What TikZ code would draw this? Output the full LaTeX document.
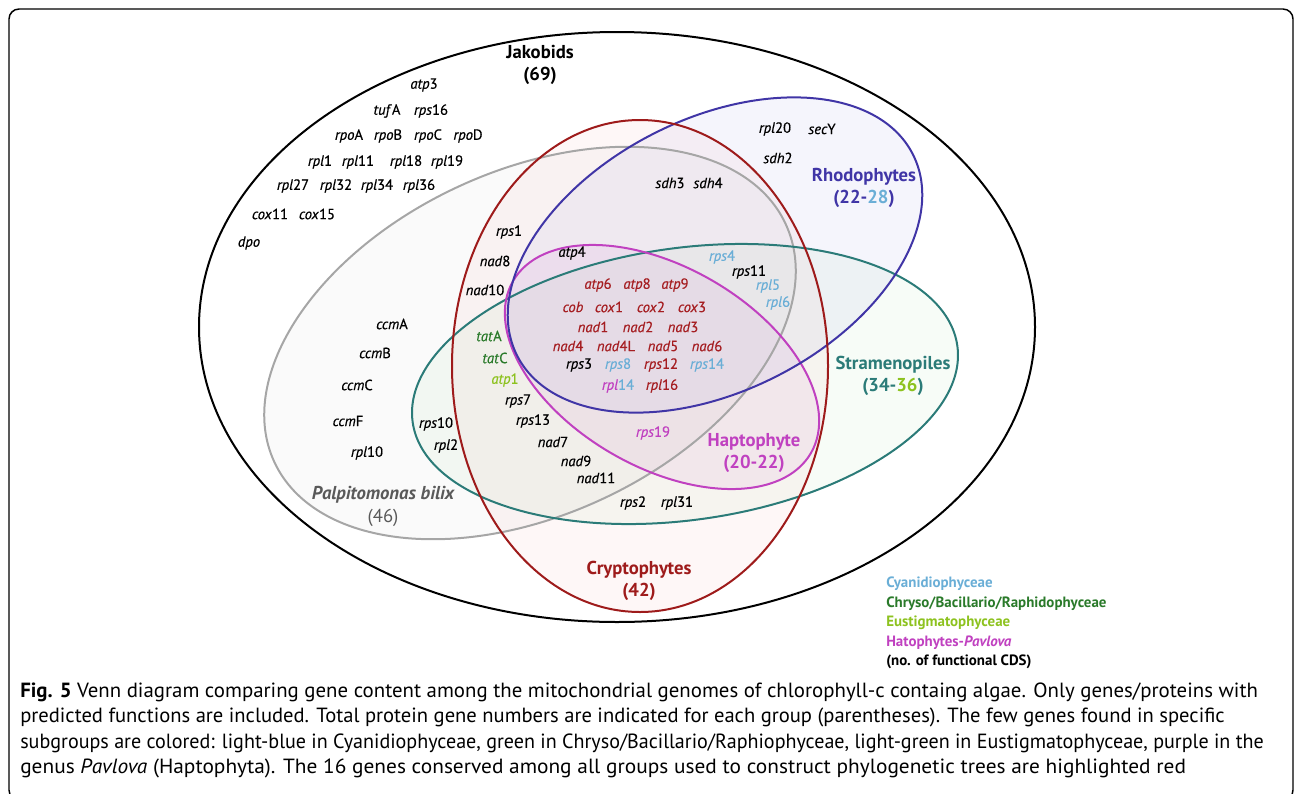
\documentclass[tikz,border=0pt]{standalone}
\usepackage{fontspec}
\setmainfont{PT Sans}
\newfontfamily\genefont{PT Sans}[FakeBold=0.5]
\newfontfamily\grpfont{PT Sans}
\definecolor{palpc}{HTML}{A6A6A6}
\definecolor{cryc}{HTML}{9E1B1B}
\definecolor{rhoc}{HTML}{4035A6}
\definecolor{strc}{HTML}{2B7B78}
\definecolor{hapc}{HTML}{C041C0}
\definecolor{lblue}{HTML}{6AAED6}
\definecolor{dgreen}{HTML}{2A7A2A}
\definecolor{lgreen}{HTML}{8DC21F}
\definecolor{redgene}{HTML}{A51E22}
\newcommand\gene[2]{\textit{#1}#2}
\tikzset{
  gene/.style={font=\genefont\fontsize{11}{13}\selectfont, inner sep=0pt},
  grp/.style={font=\grpfont\bfseries\fontsize{14}{16}\selectfont, inner sep=0pt, align=center},
  leg/.style={font=\grpfont\bfseries\fontsize{11.2}{13}\selectfont, anchor=west, inner sep=0pt},
  captext/.style={font=\fontsize{15.4}{17}\selectfont, anchor=base west, inner sep=0pt},
  venn/.style={line width=1.5pt},
}
\begin{document}
\begin{tikzpicture}[x=0.75pt,y=-0.75pt]
\useasboundingbox (0,0) rectangle (1296,793);
\draw[line width=1.1pt, rounded corners=7.5pt] (9,9) rectangle (1293,800);
% fills
\fill[black, fill opacity=0.018, rotate around={25:(530,343)}] (530,343) ellipse [x radius=211.5pt, y radius=129pt];
\fill[red!88!black, fill opacity=0.03] (640,366) ellipse [x radius=141pt, y radius=184.5pt];
\fill[blue!75!black, fill opacity=0.04, rotate around={27:(715,255)}] (715,255) ellipse [x radius=166.5pt, y radius=102pt];
\fill[green!60!black, fill opacity=0.03, rotate around={8:(685,384)}] (685,384) ellipse [x radius=206.25pt, y radius=102pt];
\fill[hapc, fill opacity=0.07, rotate around={-30:(662,367)}] (662,367) ellipse [x radius=129pt, y radius=75pt];
% outlines
\draw[venn, black] (617,327) ellipse [x radius=313.5pt, y radius=221.25pt];
\draw[venn, palpc, rotate around={25:(530,343)}] (530,343) ellipse [x radius=211.5pt, y radius=129pt];
\draw[venn, strc, rotate around={8:(685,384)}] (685,384) ellipse [x radius=206.25pt, y radius=102pt];
\draw[venn, hapc, rotate around={-30:(662,367)}] (662,367) ellipse [x radius=129pt, y radius=75pt];
\draw[venn, rhoc, rotate around={27:(715,255)}] (715,255) ellipse [x radius=166.5pt, y radius=102pt];
\draw[venn, cryc] (640,366) ellipse [x radius=141pt, y radius=184.5pt];
% group labels
\node[grp] (jak) at (540,65) {Jakobids\\(69)};
\node[grp, text=rhoc] (rho) at (864,188) {Rhodophytes\\(22-\textcolor{lblue}{28})};
\node[grp, text=strc] (str) at (893,376) {Stramenopiles\\(34-\textcolor{lgreen}{36})};
\node[grp, text=hapc] (hap) at (754,453) {Haptophyte\\(20-22)};
\node[grp, text=cryc] (cry) at (639,581) {Cryptophytes\\(42)};
\node[grp, text=black!65, font=\grpfont\bfseries\itshape\fontsize{14}{16}\selectfont] (palp) at (383,495) {Palpitomonas bilix};
\node[grp, text=black!65, font=\grpfont\fontsize{14}{16}\selectfont] (palpn) at (383,518) {(46)};
% Jakobid-only genes
\node[gene] (atp3) at (424,85) {\gene{atp}{3}};
\node[gene] (tufA) at (387,111) {\gene{tuf}{A}};
\node[gene] (rps16) at (431,111) {\gene{rps}{16}};
\node[gene] (rpoA) at (349,136) {\gene{rpo}{A}};
\node[gene] (rpoB) at (388,136) {\gene{rpo}{B}};
\node[gene] (rpoC) at (428,136) {\gene{rpo}{C}};
\node[gene] (rpoD) at (468,136) {\gene{rpo}{D}};
\node[gene] (rpl1) at (320,162) {\gene{rpl}{1}};
\node[gene] (rpl11) at (358,162) {\gene{rpl}{11}};
\node[gene] (rpl18) at (406,162) {\gene{rpl}{18}};
\node[gene] (rpl19) at (447,162) {\gene{rpl}{19}};
\node[gene] (rpl27) at (293,186) {\gene{rpl}{27}};
\node[gene] (rpl32) at (336,186) {\gene{rpl}{32}};
\node[gene] (rpl34) at (377,186) {\gene{rpl}{34}};
\node[gene] (rpl36) at (419,186) {\gene{rpl}{36}};
\node[gene] (cox11) at (270,214) {\gene{cox}{11}};
\node[gene] (cox15) at (317,214) {\gene{cox}{15}};
\node[gene] (dpo) at (249,243) {\gene{dpo}{}};
% Rhodophyte region
\node[gene] (rpl20) at (775,129) {\gene{rpl}{20}};
\node[gene] (secY) at (822,129) {\gene{sec}{Y}};
\node[gene] (sdh2) at (778,158) {\gene{sdh}{2}};
\node[gene] (sdh3) at (670,183) {\gene{sdh}{3}};
\node[gene] (sdh4) at (708,183) {\gene{sdh}{4}};
% Cryptophyte side
\node[gene] (rps1) at (509,232) {\gene{rps}{1}};
\node[gene] (nad8) at (495,261) {\gene{nad}{8}};
\node[gene] (nad10) at (485,290) {\gene{nad}{10}};
\node[gene] (atp4) at (572,253) {\gene{atp}{4}};
\node[gene, text=lblue] (rps4) at (722,257) {\gene{rps}{4}};
\node[gene] (rps11) at (749,272) {\gene{rps}{11}};
\node[gene, text=lblue] (rpl5) at (768,286) {\gene{rpl}{5}};
\node[gene, text=lblue] (rpl6) at (778,303) {\gene{rpl}{6}};
% core genes
\node[gene, text=redgene] (atp6) at (598,285) {\gene{atp}{6}};
\node[gene, text=redgene] (atp8) at (637,285) {\gene{atp}{8}};
\node[gene, text=redgene] (atp9) at (675,285) {\gene{atp}{9}};
\node[gene, text=redgene] (cob) at (573,307) {\gene{cob}{}};
\node[gene, text=redgene] (cox1) at (609,307) {\gene{cox}{1}};
\node[gene, text=redgene] (cox2) at (651,307) {\gene{cox}{2}};
\node[gene, text=redgene] (cox3) at (692,307) {\gene{cox}{3}};
\node[gene, text=redgene] (nad1) at (593,327) {\gene{nad}{1}};
\node[gene, text=redgene] (nad2) at (638,327) {\gene{nad}{2}};
\node[gene, text=redgene] (nad3) at (683,327) {\gene{nad}{3}};
\node[gene, text=redgene] (nad4) at (568,346) {\gene{nad}{4}};
\node[gene, text=redgene] (nad4L) at (616,346) {\gene{nad}{4L}};
\node[gene, text=redgene] (nad5) at (663,346) {\gene{nad}{5}};
\node[gene, text=redgene] (nad6) at (707,346) {\gene{nad}{6}};
\node[gene] (rps3) at (579,365) {\gene{rps}{3}};
\node[gene, text=lblue] (rps8) at (618,365) {\gene{rps}{8}};
\node[gene, text=redgene] (rps12) at (661,365) {\gene{rps}{12}};
\node[gene, text=lblue] (rps14) at (707,365) {\gene{rps}{14}};
\node[gene, text=lblue] (rpl14) at (618,386) {\textcolor{hapc}{\textit{rpl}}14};
\node[gene, text=redgene] (rpl16) at (662,386) {\gene{rpl}{16}};
% Stramenopile side
\node[gene, text=dgreen] (tatA) at (489,336) {\gene{tat}{A}};
\node[gene, text=dgreen] (tatC) at (495,358) {\gene{tat}{C}};
\node[gene, text=lgreen] (atp1) at (505,380) {\gene{atp}{1}};
\node[gene] (rps7) at (518,401) {\gene{rps}{7}};
\node[gene] (rps13) at (533,421) {\gene{rps}{13}};
\node[gene] (nad7) at (553,442) {\gene{nad}{7}};
\node[gene] (nad9) at (576,461) {\gene{nad}{9}};
\node[gene] (nad11) at (596,478) {\gene{nad}{11}};
\node[gene, text=hapc] (rps19) at (653,433) {\gene{rps}{19}};
\node[gene] (rps2) at (633,503) {\gene{rps}{2}};
\node[gene] (rpl31) at (677,503) {\gene{rpl}{31}};
% Palpitomonas region
\node[gene] (ccmA) at (392,324) {\gene{ccm}{A}};
\node[gene] (ccmB) at (375,353) {\gene{ccm}{B}};
\node[gene] (ccmC) at (357,385) {\gene{ccm}{C}};
\node[gene] (ccmF) at (348,421) {\gene{ccm}{F}};
\node[gene] (rpl10) at (367,453) {\gene{rpl}{10}};
\node[gene] (rps10) at (436,424) {\gene{rps}{10}};
\node[gene] (rpl2) at (446,446) {\gene{rpl}{2}};
% legend
\node[leg, text=lblue] (l1) at (886,584) {Cyanidiophyceae};
\node[leg, text=dgreen] (l2) at (886,604) {Chryso/Bacillario/Raphidophyceae};
\node[leg, text=lgreen] (l3) at (886,623) {Eustigmatophyceae};
\node[leg, text=hapc] (l4) at (886,643) {Hatophytes-\textit{Pavlova}};
\node[leg, text=black] (l5) at (886,662) {(no. of functional CDS)};
% caption
\node[captext] (c1) at (20,697) {\scalebox{1.015}[1]{\textbf{Fig. 5} Venn diagram comparing gene content among the mitochondrial genomes of chlorophyll-c containg algae. Only genes/proteins with}};
\node[captext] (c2) at (20,722) {\scalebox{1.003}[1]{predicted functions are included. Total protein gene numbers are indicated for each group (parentheses). The few genes found in specific}};
\node[captext] (c3) at (20,748) {\scalebox{0.978}[1]{subgroups are colored: light-blue in Cyanidiophyceae, green in Chryso/Bacillario/Raphiophyceae, light-green in Eustigmatophyceae, purple in the}};
\node[captext] (c4) at (20,773) {\scalebox{1.04}[1]{genus \textit{Pavlova} (Haptophyta). The 16 genes conserved among all groups used to construct phylogenetic trees are highlighted red}};
\end{tikzpicture}
\end{document}
